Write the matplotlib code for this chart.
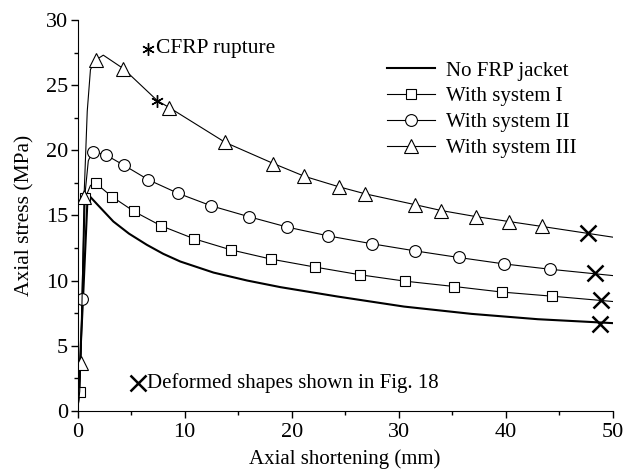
import numpy as np
import matplotlib
matplotlib.use("Agg")
import matplotlib.pyplot as plt

plt.rcParams['font.family'] = ['Liberation Serif', 'DejaVu Serif']
plt.rcParams['mathtext.fontset'] = 'stix'

nofrp_x = [0, 0.5, 0.9, 1.15, 2.0, 3.34, 4.8, 6.47, 8.0, 9.59, 12.7, 15.84, 18.96, 24.3, 30.5, 36.8, 43.0, 50]
nofrp_y = [0, 8.5, 15.8, 16.45, 15.7, 14.53, 13.6, 12.74, 12.05, 11.46, 10.61, 10.0, 9.49, 8.77, 8.0, 7.44, 7.03, 6.73]

sys1_x = [0, 0.2, 0.45, 0.7, 1.2, 1.72, 3.19, 5.28, 7.8, 10.9, 14.3, 18.1, 22.2, 26.4, 30.6, 35.2, 39.7, 44.3, 50]
sys1_y = [0, 1.45, 8.0, 16.3, 17.3, 17.45, 16.45, 15.3, 14.2, 13.2, 12.36, 11.64, 11.03, 10.44, 9.95, 9.54, 9.11, 8.8, 8.39]
sys1_marks = [1, 3] + list(range(5, 18))

sys2_x = [0, 0.2, 0.4, 0.65, 1.0, 1.4, 2.62, 4.37, 6.62, 9.37, 12.5, 16.0, 19.6, 23.4, 27.5, 31.5, 35.6, 39.8, 44.1, 50]
sys2_y = [0, 1.5, 8.6, 16.3, 19.2, 19.9, 19.65, 18.83, 17.73, 16.7, 15.73, 14.9, 14.1, 13.43, 12.82, 12.28, 11.77, 11.28, 10.87, 10.38]
sys2_marks = [2] + list(range(5, 19))

sys3_x = [0, 0.3, 0.6, 0.9, 1.2, 1.72, 2.4, 4.27, 7.46, 8.56, 13.8, 18.3, 21.2, 24.4, 26.9, 31.5, 34.0, 37.2, 40.3, 43.4, 50]
sys3_y = [0, 3.7, 16.4, 23.0, 26.2, 26.94, 27.3, 26.27, 23.8, 23.28, 20.6, 18.98, 18.0, 17.2, 16.65, 15.83, 15.37, 14.91, 14.53, 14.15, 13.33]
sys3_marks = [1, 2, 5, 7] + list(range(9, 20))

rupture_x = [7.46]
rupture_y = [23.8]

deformed_x = [48.8, 48.9, 48.3, 47.7]
deformed_y = [6.7, 8.52, 10.54, 13.64]

labels = ['No FRP jacket', 'With system I', 'With system II', 'With system III']

fig, ax = plt.subplots(figsize=(6.31, 4.76), dpi=100)
fig.subplots_adjust(left=0.123, right=0.971, bottom=0.137, top=0.958)

ax.plot(nofrp_x, nofrp_y, color='black', lw=1.5, label=labels[0])
ax.plot(sys1_x, sys1_y, color='black', lw=0.8, marker='s', ms=7.5, mfc='white',
        mec='black', mew=0.8, markevery=sys1_marks, label=labels[1])
ax.plot(sys2_x, sys2_y, color='black', lw=0.8, marker='o', ms=8.5, mfc='white',
        mec='black', mew=0.8, markevery=sys2_marks, label=labels[2])
ax.plot(sys3_x, sys3_y, color='black', lw=0.8, marker='^', ms=9.5, mfc='white',
        mec='black', mew=0.8, markevery=sys3_marks, label=labels[3])

ax.plot(rupture_x, rupture_y, ls='none', marker=(6, 2, 0), ms=9, color='black', mew=1)
ax.plot(deformed_x, deformed_y, ls='none', marker='x', ms=11, color='black', mew=1.8)

# annotation keys
ax.plot([6.6], [27.8], ls='none', marker=(6, 2, 0), ms=9, color='black', mew=1)
ax.text(7.3, 27.8, 'CFRP rupture', fontsize=15.5, va='center', ha='left')
ax.plot([5.6], [2.15], ls='none', marker='x', ms=11, color='black', mew=1.8)
ax.text(6.5, 2.15, 'Deformed shapes shown in Fig. 18', fontsize=15, va='center', ha='left')

leg = ax.legend(loc='upper left', bbox_to_anchor=(0.578, 0.895), frameon=False, fontsize=15,
                handlelength=2.3, labelspacing=0.3, handletextpad=0.55,
                borderpad=0, borderaxespad=0)

ax.set_xlim(0, 50)
ax.set_ylim(0, 30)
ax.set_xticks(np.arange(0, 51, 10))
ax.set_xticks(np.arange(5, 50, 10), minor=True)
ax.set_yticks(np.arange(0, 31, 5))
ax.set_yticks(np.arange(2.5, 30, 5), minor=True)
ax.tick_params(direction='out', labelsize=16, length=5, width=1, pad=2)
ax.tick_params(axis='x', pad=4)
ax.tick_params(which='minor', direction='out', length=3, width=1)
ax.spines['top'].set_visible(False)
ax.spines['right'].set_visible(False)
ax.set_xlabel('Axial shortening (mm)', fontsize=15, labelpad=5)
ax.set_ylabel('Axial stress (MPa)', fontsize=15.5, labelpad=8)

fig.savefig('out.png', dpi=100)
